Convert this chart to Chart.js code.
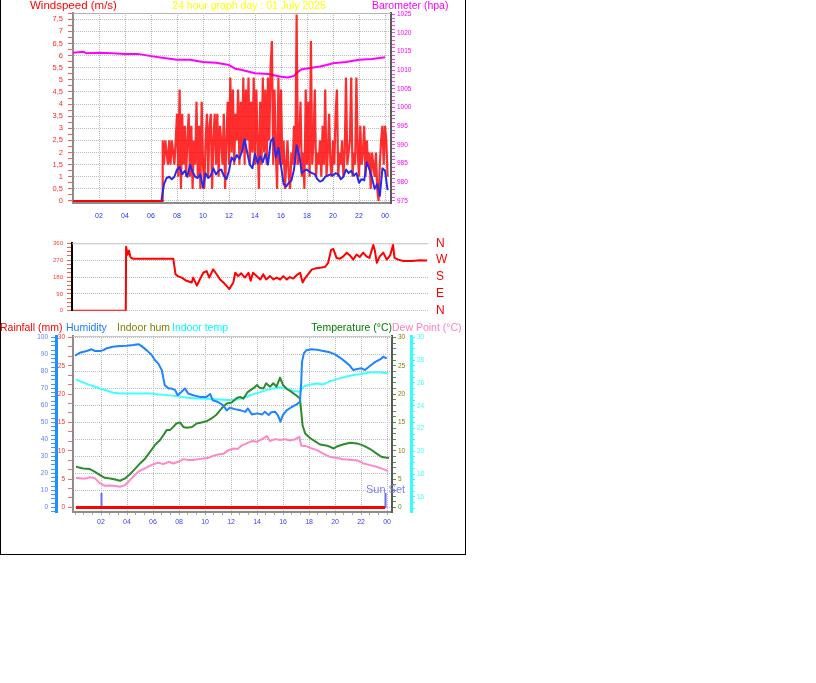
<!DOCTYPE html>
<html>
<head>
<meta charset="utf-8">
<title>24 hour graph day : 01 July 2025</title>
<script src="https://cdn.jsdelivr.net/npm/chart.js@4.4.1/dist/chart.umd.min.js"></script>
<style>
  body { margin: 0; background: #fff; font-family: "Liberation Sans", Arial, sans-serif; }
  #box { position: absolute; left: 0; top: 0; width: 466px; height: 555px; box-sizing: border-box;
         border-left: 1px solid #000; border-right: 1px solid #000; border-bottom: 1px solid #000; }
  canvas { position: absolute; left: 0; }
  .t { position: absolute; font-size: 11.5px; line-height: 12px; white-space: nowrap; z-index: 5; }
  .s { font-size: 10.5px; }
  .b { font-size: 10.5px; }
</style>
</head>
<body>
<div id="box"></div>
<canvas id="windChart" width="466" height="228" style="top:0"></canvas>
<canvas id="dirChart" width="466" height="100" style="top:226px"></canvas>
<canvas id="tempChart" width="466" height="224" style="top:316px"></canvas>

<div class="t" style="left:30px;top:-1px;color:#ff0000">Windspeed (m/s)</div>
<div class="t s" style="left:249px;top:-1px;transform:translateX(-50%);color:#ffff00">24 hour graph day : 01 July 2025</div>
<div class="t s" style="left:372px;top:-1px;color:#ff00ff">Barometer (hpa)</div>

<div class="t b" style="left:0;top:321px;color:#ff0000">Rainfall (mm)</div>
<div class="t b" style="left:66px;top:321px;color:#1e7cff">Humidity</div>
<div class="t b" style="left:117px;top:321px;color:#808000">Indoor hum</div>
<div class="t b" style="left:172px;top:321px;color:#00ffff">Indoor temp</div>
<div class="t b" style="left:392px;top:321px;transform:translateX(-100%);color:#008000">Temperature (°C)</div>
<div class="t b" style="left:392px;top:321px;color:#ff80c0">Dew Point (°C)</div>

<script>
// ---- data (hours of the day) ----
var hourTicks = [2, 4, 6, 8, 10, 12, 14, 16, 18, 20, 22, 24];
var hourTickLabels = ['02', '04', '06', '08', '10', '12', '14', '16', '18', '20', '22', '00'];

var windTicks = [0, 0.5, 1, 1.5, 2, 2.5, 3, 3.5, 4, 4.5, 5, 5.5, 6, 6.5, 7, 7.5];
var windTickLabels = ['0', '0,5', '1', '1,5', '2', '2,5', '3', '3,5', '4', '4,5', '5', '5,5', '6', '6,5', '7', '7,5'];
var baroTicks = [975, 980, 985, 990, 995, 1000, 1005, 1010, 1015, 1020, 1025];
var baroTickLabels = ['975', '980', '985', '990', '995', '1000', '1005', '1010', '1015', '1020', '1025'];

var calmHours = [0, 6.9];
var calmSpeed = [0, 0];

// gust every 6 minutes from 06:54
var gustStart = 6.9, gustStep = 0.1;
var gustSpeed = [2.5,
  1.5, 2.5, 2.0, 1.5, 2.5, 1.5, 2.5, 2.0, 1.5, 2.5,
  3.6, 1.0, 4.6, 0.5, 3.6, 1.5, 3.1, 1.0, 2.5, 3.6,
  1.0, 3.1, 0.5, 2.5, 1.5, 4.1, 1.0, 3.1, 0.5, 4.1,
  1.5, 0.5, 2.5, 3.6, 1.0, 3.1, 3.6, 0.5, 2.5, 3.6,
  1.5, 3.6, 1.0, 3.1, 2.5, 1.5, 3.6, 0.5, 2.5, 4.1,
  1.5, 5.1, 2.0, 4.6, 1.5, 3.6, 2.5, 4.6, 1.5, 4.1,
  2.0, 5.1, 1.5, 4.6, 2.5, 5.1, 1.5, 4.1, 2.0, 5.1,
  1.5, 4.6, 2.5, 0.5, 4.1, 1.5, 5.1, 2.0, 4.6, 1.5,
  5.1, 2.5, 5.6, 6.6, 1.5, 4.6, 2.0, 0.5, 5.1, 1.5,
  4.6, 1.5, 2.5, 0.5, 1.5, 2.5, 1.0, 0.5, 2.0, 1.5,
  3.1, 1.5, 7.7, 1.5, 2.5, 4.1, 1.0, 2.0, 0.5, 4.6,
  1.5, 4.1, 1.0, 6.6, 1.5, 2.5, 4.6, 1.0, 2.0, 1.5,
  2.5, 1.0, 3.1, 1.5, 4.6, 1.0, 2.0, 3.6, 1.5, 1.0,
  2.5, 1.5, 3.6, 4.6, 1.0, 2.0, 1.5, 2.5, 1.0, 2.0,
  5.1, 1.5, 2.0, 2.5, 5.1, 1.0, 2.0, 1.5, 5.1, 2.0,
  1.0, 3.1, 1.5, 2.0, 3.1, 1.0, 2.5, 1.5, 2.0, 0.5,
  2.0, 1.5, 1.0, 2.0, 0.5, 0.0, 1.5, 2.5, 3.1, 1.5,
  3.1, 2.5, 1.0];

// average every 12 minutes from 06:48
var avgStart = 6.8, avgStep = 0.2;
var avgSpeed = [0, 0.7, 0.95, 1.0, 0.9, 1.0, 1.3, 1.4, 1.1, 1.25,
  1.0, 1.5, 1.2, 1.0, 0.95, 1.1, 0.55, 1.15, 0.95, 1.05,
  1.35, 1.1, 1.25, 1.3, 1.05, 0.9, 1.25, 1.8, 1.65, 1.9,
  1.75, 2.05, 2.55, 2.0, 1.5, 1.35, 1.95, 1.55, 1.85, 1.6,
  1.95, 1.5, 2.45, 2.6, 1.8, 2.2, 1.45, 0.7, 0.6, 0.75,
  0.85, 1.3, 2.3, 1.9, 1.15, 1.25, 1.3, 1.2, 1.15, 1.1,
  0.9, 0.8, 0.85, 1.0, 1.05, 1.1, 1.05, 1.15, 1.1, 0.9,
  1.0, 1.3, 1.15, 1.25, 1.05, 1.15, 0.75, 0.9, 0.85, 1.6,
  1.3, 0.95, 0.5, 0.7, 0.2, 1.35, 1.25, 0.45];

var baroHours = [0, 0.8, 1, 2, 3, 4, 5, 6, 7, 8, 9, 10, 11, 12, 12.5, 13, 14, 15, 16, 16.5, 17, 17.3, 17.6, 18, 19, 19.5, 20, 21, 22, 23, 24];
var baroHpa = [1014.7, 1015.0, 1014.6, 1014.7, 1014.6, 1014.4, 1014.4, 1013.8, 1013.3, 1012.8, 1012.8, 1012.2, 1012.0, 1011.4, 1010.4, 1010.1, 1009.2, 1009.0, 1008.3, 1008.1, 1008.5, 1009.6, 1010.3, 1010.5, 1011.0, 1011.4, 1011.9, 1012.2, 1012.8, 1013.0, 1013.5];

var dirTicks = [0, 90, 180, 270, 360];
var dirTickLabels = ['0', '90', '180', '270', '360'];
var compassLabels = ['N', 'E', 'S', 'W', 'N'];
var dirHours = [0, 3.58, 3.6, 3.7, 3.8, 3.9, 4.05, 6.8, 6.95, 7.1, 7.37, 7.7, 8.05, 8.15, 8.4, 8.6, 8.83, 9.06, 9.24, 9.5,
  9.74, 9.97, 10.2, 10.4, 10.6, 10.87, 11.0, 11.2, 11.4, 11.66, 11.9, 12.05, 12.2, 12.45, 12.7, 12.9, 13.1, 13.36, 13.6, 13.8,
  14.05, 14.26, 14.5, 14.7, 14.93, 15.16, 15.4, 15.57, 15.7, 15.95, 16.2, 16.4, 16.75, 17.1, 17.3, 17.5, 17.65, 17.87, 18.1, 18.33,
  18.56, 18.78, 19.0, 19.23, 19.45, 19.68, 19.9, 20.1, 20.36, 20.47, 20.6, 20.8, 21.04, 21.27, 21.5, 21.7, 21.8, 22.05, 22.4, 23.0,
  23.5, 24.0];
var dirDeg = [0, 0, 342, 299, 321, 285, 278, 278, 195, 185, 177, 160, 151, 177, 134, 167, 203, 212, 177, 221,
  195, 167, 151, 134, 116, 151, 203, 185, 200, 177, 203, 160, 203, 185, 167, 195, 167, 185, 167, 177,
  167, 185, 167, 180, 172, 190, 203, 151, 170, 195, 221, 225, 229, 235, 256, 325, 330, 282, 278, 290,
  310, 295, 273, 300, 287, 310, 290, 282, 351, 320, 256, 290, 310, 273, 295, 351, 282, 273, 266, 265,
  270, 268];

var humTicks = [0, 10, 20, 30, 40, 50, 60, 70, 80, 90, 100];
var humTickLabels = ['0', '10', '20', '30', '40', '50', '60', '70', '80', '90', '100'];
var rainTicks = [0, 5, 10, 15, 20, 25, 30];
var rainTickLabels = ['0', '5', '10', '15', '20', '25', '30'];
var tempTicks = [0, 5, 10, 15, 20, 25, 30];
var tempTickLabels = ['0', '5', '10', '15', '20', '25', '30'];
var indoorTicks = [16, 18, 20, 22, 24, 26, 28, 30];
var indoorTickLabels = ['16', '18', '20', '22', '24', '26', '28', '30'];

var humHours = [0, 0.38, 0.9, 1.28, 1.54, 1.92, 2.2, 2.4, 2.9, 3.46, 3.97, 4.5, 4.87, 5.1, 5.5, 5.9, 6.15, 6.4, 6.67, 6.8,
  6.9, 7.2, 7.4, 7.7, 7.9, 8.2, 8.46, 8.7, 9.1, 9.6, 10.1, 10.4, 10.6, 11.0, 11.4, 11.67, 11.9, 12.3, 12.7, 13.1,
  13.3, 13.6, 14.0, 14.4, 14.6, 14.9, 15.1, 15.4, 15.6, 15.8, 16.0, 16.3, 16.7, 17.05, 17.3, 17.4, 17.46, 17.6, 17.8, 18.2,
  18.6, 19.0, 19.6, 20.0, 20.4, 20.8, 21.15, 21.4, 21.7, 22.05, 22.3, 22.7, 23.1, 23.5, 23.7, 23.97];
var humidity = [89.2, 91, 92, 93, 92, 92, 92.5, 93.5, 94.5, 94.9, 95.1, 95.5, 96, 95, 92.5, 89.6, 86.6, 84.7, 80.8, 75.9,
  71.9, 70, 70, 69, 66, 68, 70, 67, 66, 65, 65, 66.6, 63, 62, 60, 57, 58.6, 57.8, 57.2, 56.2,
  58.2, 54.7, 55.3, 54.7, 56.2, 54.3, 56, 56.2, 54.3, 50.4, 54.5, 57.2, 59.2, 60.6, 62.1, 73.9, 85.6, 90.6, 92.5, 93,
  92.8, 92.1, 91.2, 90, 88, 85.6, 83.3, 80.8, 81.4, 81.8, 80.8, 83.3, 85.6, 87.2, 88.6, 87.6];

var tempHours = [0.08, 0.64, 1.15, 1.54, 1.92, 2.3, 2.7, 3.1, 3.46, 3.85, 4.2, 4.6, 5.0, 5.4, 5.77, 6.15, 6.54, 6.8, 7.05, 7.3,
  7.56, 7.8, 8.08, 8.33, 8.6, 9.0, 9.36, 9.74, 10.1, 10.5, 10.9, 11.28, 11.67, 12.05, 12.44, 12.7, 12.95, 13.3, 13.7, 14.0,
  14.2, 14.5, 14.7, 15.0, 15.25, 15.5, 15.77, 16.0, 16.3, 16.7, 17.05, 17.3, 17.4, 17.5, 17.7, 18.1, 18.5, 18.85, 19.4, 19.9,
  20.1, 20.6, 21.15, 21.7, 22.2, 22.7, 23.2, 23.6, 23.97, 24.15];
var temperature = [7.17, 6.88, 6.76, 6.28, 5.7, 5.23, 5.12, 4.94, 4.7, 5.12, 5.82, 6.76, 7.76, 8.64, 9.81, 11, 11.9, 12.76, 13.64, 13.64,
  14.2, 14.8, 15, 14.2, 14.05, 14.2, 14.8, 15, 15.2, 15.7, 16.4, 17.5, 18.35, 18.5, 19.3, 19.5, 19.2, 20.4, 21, 21.6,
  21.1, 21, 21.9, 21.3, 21.9, 21.3, 22.9, 21.6, 20.9, 20.3, 19.7, 19.2, 16.9, 14.5, 13.06, 12.2, 11.6, 11.1, 10.9, 10.4,
  10.7, 11.1, 11.4, 11.3, 10.9, 10.3, 9.5, 8.9, 8.75, 8.75];

var dewHours = [0.08, 0.5, 0.9, 1.15, 1.54, 1.92, 2.3, 2.7, 3.1, 3.46, 3.85, 4.1, 4.5, 4.87, 5.26, 5.64, 6.0, 6.4, 6.8, 7.2,
  7.56, 7.95, 8.33, 8.7, 9.1, 9.5, 9.9, 10.26, 10.6, 11.0, 11.4, 11.8, 12.2, 12.5, 12.8, 13.2, 13.6, 14.0, 14.4, 14.75,
  15.0, 15.4, 15.77, 16.15, 16.5, 16.9, 17.25, 17.4, 17.7, 18.1, 18.6, 19.1, 19.6, 20.1, 20.6, 21.15, 21.7, 22.2, 22.7, 23.2,
  23.7, 24.1];
var dewPoint = [5.23, 5.12, 5.12, 5.35, 5.12, 4.24, 3.82, 3.88, 3.76, 3.64, 3.94, 4.5, 5.5, 6.3, 6.76, 7.2, 7.6, 7.88, 7.64, 8.05,
  7.76, 8.05, 8.52, 8.35, 8.35, 8.52, 8.64, 8.75, 9.1, 9.35, 9.46, 10.1, 10.4, 10.3, 10.9, 11.3, 11.7, 11.6, 12.05, 12.6,
  11.7, 12.05, 11.9, 12.05, 11.8, 12.0, 12.46, 10.9, 10.85, 10.5, 10.1, 9.5, 8.9, 8.75, 8.5, 8.4, 8.3, 7.76, 7.46, 7.17,
  6.76, 6.4];

var indoorHours = [0.08, 0.5, 1.0, 1.54, 2.05, 2.56, 2.95, 3.46, 4.5, 5.5, 6.0, 6.3, 7.05, 7.8, 8.6, 9.6, 10.6, 11.67, 12.2, 12.7,
  13.2, 13.7, 14.2, 14.7, 15.25, 15.77, 16.3, 16.9, 17.3, 17.56, 18.1, 18.6, 19.1, 19.5, 20.1, 20.8, 21.4, 22.05, 22.7, 23.3,
  24.1];
var indoorTemp = [26.31, 26.1, 25.87, 25.66, 25.46, 25.29, 25.14, 25.08, 25.08, 25.08, 25.08, 25.0, 24.93, 24.85, 24.7, 24.64, 24.58, 24.5, 24.5, 24.58,
  24.79, 25.0, 25.17, 25.37, 25.52, 25.6, 25.46, 25.29, 25.22, 25.66, 25.87, 25.96, 25.87, 26.1, 26.31, 26.54, 26.69, 26.78, 26.93, 26.93,
  26.84];

var rainHours = [0.08, 23.85];
var rainfall = [0, 0];

var sunHours = [2.0, 23.85];
var sunLabels = ['', 'Sun Set'];

// ---- helpers ----
var FONT = "'Liberation Sans', Arial, sans-serif";
var NONE = 'rgba(0,0,0,0)';

function pts(hours, values) {
  return values.map(function (v, i) { return { x: hours[i], y: v }; });
}
function stepPts(start, step, values) {
  return values.map(function (v, i) { return { x: +(start + i * step).toFixed(3), y: v }; });
}

// majors from the tick array, small unlabeled ticks in between
function buildTicks(majors, minorStep) {
  return function (scale) {
    var out = [];
    var first = Math.ceil((scale.min - 1e-9) / minorStep);
    var last = Math.floor((scale.max + 1e-9) / minorStep);
    for (var i = first; i <= last; i++) {
      var v = +(i * minorStep).toFixed(6);
      var isMajor = majors.some(function (m) { return Math.abs(m - v) < 1e-6; });
      out.push({ value: v, minor: !isMajor });
    }
    majors.forEach(function (m) {
      if (!out.some(function (t) { return Math.abs(t.value - m) < 1e-6; })) out.push({ value: m, minor: false });
    });
    out.sort(function (a, b) { return a.value - b.value; });
    scale.ticks = out;
  };
}
function labelFor(majors, labels) {
  return function (value) {
    for (var k = 0; k < majors.length; k++) {
      if (Math.abs(majors[k] - value) < 1e-6) return labels[k];
    }
    return '';
  };
}

function axis(o) {
  var vertical = o.pos === 'left' || o.pos === 'right';
  return {
    type: 'linear', position: o.pos, min: o.min, max: o.max, bounds: 'data', weight: o.weight || 0,
    afterBuildTicks: buildTicks(o.ticks, o.minor),
    afterFit: function (s) { if (vertical) s.width = o.size; else s.height = o.size; },
    grid: {
      drawOnChartArea: !!o.gridColor,
      color: function (c) { return c.tick && !c.tick.minor && o.gridColor ? o.gridColor : NONE; },
      drawTicks: o.tickLength > 0, tickLength: o.tickLength || 0, tickWidth: 1,
      tickColor: o.tickColor || NONE
    },
    border: { display: !!o.borderColor, color: o.borderColor, width: o.borderWidth || 2, dash: [1, 1] },
    ticks: {
      autoSkip: false, maxRotation: 0, padding: o.padding, color: o.labelColor,
      font: { family: FONT, size: o.fontSize }, callback: labelFor(o.ticks, o.labels)
    }
  };
}

var framePlugin = {
  id: 'frame',
  beforeDatasetsDraw: function (chart, args, opts) {
    if (!opts || !opts.top) return;
    var a = chart.chartArea, c = chart.ctx;
    c.save();
    c.strokeStyle = opts.top;
    c.lineWidth = 1;
    c.beginPath();
    c.moveTo(a.left, a.top + 0.5);
    c.lineTo(a.right, a.top + 0.5);
    c.stroke();
    c.restore();
  }
};

var sunPlugin = {
  id: 'sun',
  beforeDatasetsDraw: function (chart) {
    var xs = chart.scales.x, a = chart.chartArea, c = chart.ctx;
    c.save();
    sunHours.forEach(function (h, i) {
      var px = Math.round(xs.getPixelForValue(h)) + 0.5;
      c.strokeStyle = '#6b6bff';
      c.lineWidth = 2;
      c.beginPath();
      c.moveTo(px, a.bottom - 4);
      c.lineTo(px, a.bottom - 19);
      c.stroke();
      if (sunLabels[i]) {
        c.fillStyle = '#8080ff';
        c.font = '11px ' + FONT;
        c.textAlign = 'center';
        c.textBaseline = 'alphabetic';
        c.fillText(sunLabels[i], px, a.bottom - 19.5);
      }
    });
    c.restore();
  }
};

function baseOptions(padding, scales, frameTop) {
  return {
    responsive: false, animation: false, events: [],
    layout: { padding: padding },
    elements: { point: { radius: 0 }, line: { tension: 0, borderJoinStyle: 'round' } },
    plugins: { legend: { display: false }, tooltip: { enabled: false }, frame: { top: frameTop } },
    scales: scales
  };
}

// ---- wind speed and barometer ----
new Chart(document.getElementById('windChart'), {
  type: 'line',
  data: {
    datasets: [
      { data: pts(calmHours, calmSpeed), borderColor: '#ff0000', borderWidth: 2, yAxisID: 'wind' },
      { data: pts(calmHours, calmSpeed).concat(stepPts(avgStart, avgStep, avgSpeed)), borderColor: '#2a2ae6', borderWidth: 2, yAxisID: 'wind' },
      { data: pts(calmHours, calmSpeed).concat(stepPts(gustStart, gustStep, gustSpeed)), borderColor: 'rgba(255,0,0,0.82)', borderWidth: 2.2, borderJoinStyle: 'bevel', yAxisID: 'wind' },
      { data: pts(baroHours, baroHpa), borderColor: '#ff00ff', borderWidth: 2, yAxisID: 'baro' }
    ]
  },
  options: baseOptions({ top: 13, left: 0, right: 0, bottom: 0 }, {
    x: axis({ pos: 'bottom', min: 0, max: 24.46, ticks: hourTicks, labels: hourTickLabels, minor: 2, size: 25,
      gridColor: '#bdbdbd', borderColor: '#8c8c8c', tickLength: 0, padding: 9, labelColor: '#2a2aff', fontSize: 7 }),
    wind: axis({ pos: 'left', min: -0.083, max: 7.76, ticks: windTicks, labels: windTickLabels, minor: 0.25, size: 73,
      gridColor: '#bdbdbd', borderColor: '#8c8c8c', tickColor: '#ff5a5a', tickLength: 5, padding: 5, labelColor: '#ff2a2a', fontSize: 7.5 }),
    baro: axis({ pos: 'right', min: 974.46, max: 1025.35, ticks: baroTicks, labels: baroTickLabels, minor: 1, size: 75,
      borderColor: '#5a5a5a', tickColor: '#ff40ff', tickLength: 4, padding: 2, labelColor: '#ff00ff', fontSize: 6.5 })
  }, '#b4b4b4'),
  plugins: [framePlugin]
});

// ---- wind direction ----
new Chart(document.getElementById('dirChart'), {
  type: 'line',
  data: {
    datasets: [
      { data: pts(dirHours, dirDeg), borderColor: '#ff0000', borderWidth: 2, yAxisID: 'deg' }
    ]
  },
  options: baseOptions({ top: 17.3, left: 0, right: 0, bottom: 13.7 }, {
    x: { type: 'linear', display: false, min: -0.068, max: 24.07 },
    deg: axis({ pos: 'left', min: 0, max: 360, ticks: dirTicks, labels: dirTickLabels, minor: 22.5, size: 72,
      gridColor: '#bdbdbd', borderColor: '#000000', tickColor: '#ff5a5a', tickLength: 5, padding: 4, labelColor: '#ff3a3a', fontSize: 6 }),
    compass: axis({ pos: 'right', min: 0, max: 360, ticks: dirTicks, labels: compassLabels, minor: 90, size: 38,
      tickLength: 0, padding: 8, labelColor: '#ff0000', fontSize: 12 })
  }, '#c8c8c8'),
  plugins: [framePlugin]
});

// ---- temperatures, humidity, rain ----
new Chart(document.getElementById('tempChart'), {
  type: 'line',
  data: {
    datasets: [
      { data: pts(humHours, humidity), borderColor: '#1e84ff', borderWidth: 2, yAxisID: 'hum' },
      { data: pts(tempHours, temperature), borderColor: '#2e8b2e', borderWidth: 2, yAxisID: 'temp' },
      { data: pts(dewHours, dewPoint), borderColor: '#ff88c8', borderWidth: 2, yAxisID: 'temp' },
      { data: pts(indoorHours, indoorTemp), borderColor: '#40ffff', borderWidth: 2, yAxisID: 'indoor' },
      { data: pts(rainHours, rainfall), borderColor: '#ff0000', borderWidth: 3, yAxisID: 'rain' }
    ]
  },
  options: baseOptions({ top: 20, left: 0, right: 0, bottom: 0 }, {
    x: axis({ pos: 'bottom', min: -0.154, max: 24.38, ticks: hourTicks, labels: hourTickLabels, minor: 2 / 3, size: 28,
      gridColor: '#bdbdbd', borderColor: '#8c8c8c', tickColor: '#a8a8a8', tickLength: 3, padding: 3, labelColor: '#4040ff', fontSize: 7 }),
    hum: axis({ pos: 'left', weight: 1, min: -2.71, max: 100.82, ticks: humTicks, labels: humTickLabels, minor: 2.5, size: 56,
      gridColor: '#bdbdbd', borderColor: '#1e90ff', borderWidth: 3, tickColor: '#4a96ff', tickLength: 5, padding: 3, labelColor: '#5a82ff', fontSize: 6.5 }),
    rain: axis({ pos: 'left', weight: 0, min: -0.81, max: 30.25, ticks: rainTicks, labels: rainTickLabels, minor: 5 / 3, size: 17,
      borderColor: '#8c8c8c', tickColor: '#ff6a6a', tickLength: 5, padding: 3, labelColor: '#ff3030', fontSize: 6.5 }),
    temp: axis({ pos: 'right', weight: 0, min: -0.81, max: 30.25, ticks: tempTicks, labels: tempTickLabels, minor: 1, size: 19,
      borderColor: '#5a5a5a', tickColor: '#4a9a4a', tickLength: 4, padding: 2, labelColor: '#808000', fontSize: 6.5 }),
    indoor: axis({ pos: 'right', weight: 1, min: 14.67, max: 30.12, ticks: indoorTicks, labels: indoorTickLabels, minor: 0.5, size: 55,
      borderColor: '#33ffff', borderWidth: 3, tickColor: '#33ffff', tickLength: 4, padding: 2, labelColor: '#40ffff', fontSize: 6.5 })
  }, '#c8c8c8'),
  plugins: [framePlugin, sunPlugin]
});
</script>
</body>
</html>
